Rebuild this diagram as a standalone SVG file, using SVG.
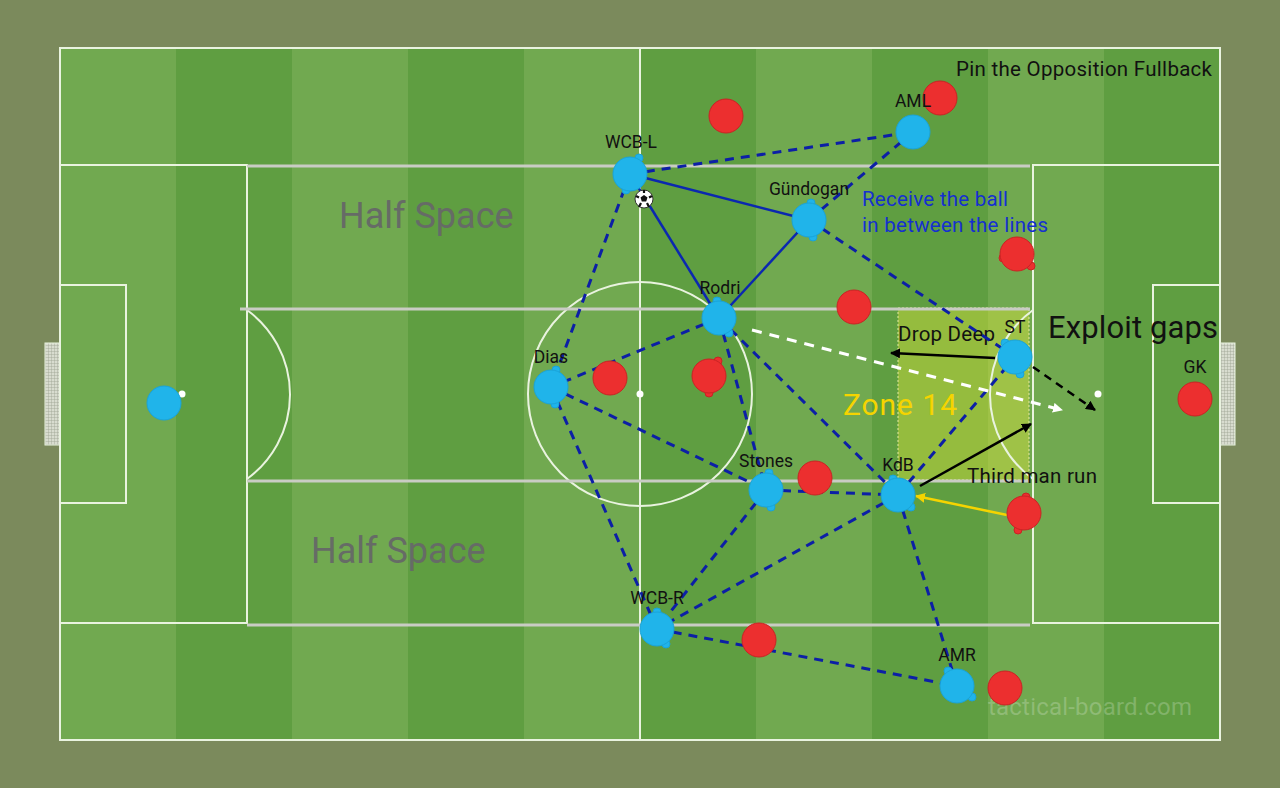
<svg xmlns="http://www.w3.org/2000/svg" width="1280" height="788" viewBox="0 0 1280 788">
<defs>
<style>
.line{stroke:#e9f3df;stroke-width:2;fill:none}
.gray{stroke:#c9ccc4;stroke-width:3;fill:none}
.lbl{font-family:Roboto,"Liberation Sans",sans-serif;font-size:17.5px;fill:#111;text-anchor:middle}
.txt{font-family:Roboto,"Liberation Sans",sans-serif;fill:#111}
.blue{fill:#20b4ea;stroke:#1aa3d8;stroke-width:1}
.red{fill:#ec2f2f;stroke:#c82424;stroke-width:1}
.dash{stroke:#0c1fa6;stroke-width:3;stroke-dasharray:9 7;fill:none}
.solid{stroke:#0b28b0;stroke-width:2.5;fill:none}
</style>
<marker id="ab" markerWidth="10" markerHeight="10" refX="9" refY="5" orient="auto" markerUnits="userSpaceOnUse" viewBox="0 0 10 10"><path d="M0,0 L10,5 L0,10 z" fill="#000"/></marker>
<marker id="aw" markerWidth="10" markerHeight="10" refX="9" refY="5" orient="auto" markerUnits="userSpaceOnUse" viewBox="0 0 10 10"><path d="M0,0 L10,5 L0,10 z" fill="#fff"/></marker>
<marker id="ay" markerWidth="10" markerHeight="10" refX="9" refY="5" orient="auto" markerUnits="userSpaceOnUse" viewBox="0 0 10 10"><path d="M0,0 L10,5 L0,10 z" fill="#f5d400"/></marker>
<pattern id="net" width="3" height="3" patternUnits="userSpaceOnUse"><rect width="3" height="3" fill="#d8dccf"/><path d="M0,0 H3 M0,0 V3" stroke="#9aa290" stroke-width="0.8"/></pattern>
</defs>
<rect x="0" y="0" width="1280" height="788" fill="#7b8a5c"/>
<g id="pitch">
<rect x="60" y="48" width="1160" height="692" fill="#71a950"/>
<rect x="176" y="48" width="116" height="692" fill="#5f9e41"/>
<rect x="408" y="48" width="116" height="692" fill="#5f9e41"/>
<rect x="640" y="48" width="116" height="692" fill="#5f9e41"/>
<rect x="872" y="48" width="116" height="692" fill="#5f9e41"/>
<rect x="1104" y="48" width="116" height="692" fill="#5f9e41"/>
<rect x="45" y="343" width="15" height="102" fill="url(#net)" stroke="#e9f3df" stroke-width="1"/>
<rect x="1220" y="343" width="15" height="102" fill="url(#net)" stroke="#e9f3df" stroke-width="1"/>
<rect x="898" y="308" width="131" height="172" fill="#d7e03c" fill-opacity="0.45" stroke="#e6e8a0" stroke-width="1" stroke-dasharray="2 2"/>
<rect x="60" y="48" width="1160" height="692" class="line"/>
<line x1="640" y1="48" x2="640" y2="740" class="line"/>
<circle cx="640" cy="394" r="112" class="line"/>
<circle cx="640" cy="394" r="3.5" fill="#fff"/>
<rect x="60" y="165" width="187" height="458" class="line"/>
<rect x="60" y="285" width="66" height="218" class="line"/>
<path d="M247,310 A104.5,104.5 0 0 1 247,479" class="line"/>
<circle cx="182" cy="394" r="3.5" fill="#fff"/>
<rect x="1033" y="165" width="187" height="458" class="line"/>
<rect x="1153" y="285" width="67" height="218" class="line"/>
<path d="M1033,310 A104.5,104.5 0 0 0 1033,479" class="line"/>
<circle cx="1098" cy="394" r="3.5" fill="#fff"/>
<line x1="247" y1="166" x2="1030" y2="166" class="gray"/>
<line x1="240" y1="309" x2="1030" y2="309" class="gray"/>
<line x1="247" y1="481" x2="1030" y2="481" class="gray"/>
<line x1="247" y1="625" x2="1030" y2="625" class="gray"/>
</g>
<g id="labels-zones">
<text x="339" y="228" class="txt" font-size="36" style="fill:#666b66">Half Space</text>
<text x="311" y="563" class="txt" font-size="36" style="fill:#666b66">Half Space</text>
<text x="843" y="415" class="txt" font-size="30" textLength="114" style="fill:#f5d400">Zone 14</text>
<text x="956" y="76" class="txt" font-size="20.5" textLength="256">Pin the Opposition Fullback</text>
<text x="1048" y="338" class="txt" font-size="31" textLength="170">Exploit gaps</text>
<text x="898" y="341" class="txt" font-size="20.5" textLength="97">Drop Deep</text>
<text x="967" y="483" class="txt" font-size="20.5" textLength="130">Third man run</text>
<text x="862" y="206" class="txt" font-size="20.5" textLength="146" style="fill:#1530d0">Receive the ball</text>
<text x="862" y="232" class="txt" font-size="20.5" textLength="186" style="fill:#1530d0">in between the lines</text>
<text x="988" y="715" class="txt" font-size="24" textLength="204" style="fill:#ffffff;fill-opacity:0.22">tactical-board.com</text>
</g>
<g id="connectors">
<line x1="630" y1="174" x2="809" y2="220" class="solid"/>
<line x1="630" y1="174" x2="719" y2="318" class="solid"/>
<line x1="719" y1="318" x2="809" y2="220" class="solid"/>
<line x1="630" y1="174" x2="913" y2="132" class="dash"/>
<line x1="809" y1="220" x2="913" y2="132" class="dash"/>
<line x1="630" y1="174" x2="551" y2="387" class="dash"/>
<line x1="809" y1="220" x2="1015" y2="357" class="dash"/>
<line x1="719" y1="318" x2="551" y2="387" class="dash"/>
<line x1="719" y1="318" x2="766" y2="490" class="dash"/>
<line x1="719" y1="318" x2="898" y2="495" class="dash"/>
<line x1="551" y1="387" x2="766" y2="490" class="dash"/>
<line x1="551" y1="387" x2="657" y2="629" class="dash"/>
<line x1="766" y1="490" x2="898" y2="495" class="dash"/>
<line x1="766" y1="490" x2="657" y2="629" class="dash"/>
<line x1="898" y1="495" x2="657" y2="629" class="dash"/>
<line x1="898" y1="495" x2="1015" y2="357" class="dash"/>
<line x1="898" y1="495" x2="957" y2="686" class="dash"/>
<line x1="657" y1="629" x2="957" y2="686" class="dash"/>
<line x1="752" y1="330" x2="1062" y2="410" stroke="#fff" stroke-width="3" stroke-dasharray="10 8" marker-end="url(#aw)"/>
<line x1="1033" y1="367" x2="1095" y2="410" stroke="#000" stroke-width="2.5" stroke-dasharray="8 6" marker-end="url(#ab)"/>
<line x1="995" y1="358" x2="891" y2="353" stroke="#000" stroke-width="2.5" marker-end="url(#ab)"/>
<line x1="920" y1="486" x2="1031" y2="424" stroke="#000" stroke-width="2.5" marker-end="url(#ab)"/>
<line x1="1007" y1="515" x2="916" y2="496" stroke="#f5d400" stroke-width="2.5" marker-end="url(#ay)"/>
</g>
<g id="ball">
<circle cx="644" cy="199" r="9" fill="#fff" stroke="#333" stroke-width="1"/>
<polygon points="644,195 647.5,197.5 646.2,201.5 641.8,201.5 640.5,197.5" fill="#111"/>
<path d="M644,190 L644,193 M652,196 L649,197.5 M649,207 L647,203 M639,207 L641,203 M636,196 L639,197.5" stroke="#111" stroke-width="2.2"/>
</g>
<g id="red-players">
<circle cx="726" cy="116" r="17" class="red"/>
<circle cx="940" cy="98" r="17" class="red"/>
<g id="red-3"><circle cx="1003" cy="258" r="4" class="red"/><circle cx="1031" cy="266" r="4" class="red"/><circle cx="1017" cy="254" r="17" class="red"/></g>
<circle cx="854" cy="307" r="17" class="red"/>
<circle cx="610" cy="378" r="17" class="red"/>
<g id="red-6"><circle cx="718" cy="361" r="4" class="red"/><circle cx="709" cy="393" r="4" class="red"/><circle cx="709" cy="376" r="17" class="red"/></g>
<circle cx="815" cy="478" r="17" class="red"/>
<g id="red-8"><circle cx="1026" cy="497" r="4" class="red"/><circle cx="1018" cy="530" r="4" class="red"/><circle cx="1024" cy="513" r="17" class="red"/></g>
<circle cx="759" cy="640" r="17" class="red"/>
<circle cx="1005" cy="688" r="17" class="red"/>
<g id="gk-red"><circle cx="1195" cy="399" r="17" class="red"/><text x="1195" y="373" class="lbl">GK</text></g>
</g>
<g id="gk-blue"><circle cx="164" cy="403" r="17" class="blue"/></g>
<g id="wcb-l"><circle cx="639" cy="158" r="4" class="blue"/><circle cx="626" cy="190" r="4" class="blue"/><circle cx="630" cy="174" r="17" class="blue"/><text x="631" y="148" class="lbl">WCB-L</text></g>
<g id="gundogan"><circle cx="811" cy="203" r="4" class="blue"/><circle cx="813" cy="237" r="4" class="blue"/><circle cx="809" cy="220" r="17" class="blue"/><text x="809" y="195" class="lbl">Gündogan</text></g>
<g id="aml"><circle cx="913" cy="132" r="17" class="blue"/><text x="913" y="107" class="lbl">AML</text></g>
<g id="rodri"><circle cx="717" cy="301" r="4" class="blue"/><circle cx="729" cy="333" r="4" class="blue"/><circle cx="719" cy="318" r="17" class="blue"/><text x="720" y="294" class="lbl">Rodri</text></g>
<g id="dias"><circle cx="556" cy="370" r="4" class="blue"/><circle cx="555" cy="404" r="4" class="blue"/><circle cx="551" cy="387" r="17" class="blue"/><text x="551" y="363" class="lbl">Dias</text></g>
<g id="stones"><circle cx="769" cy="473" r="4" class="blue"/><circle cx="771" cy="507" r="4" class="blue"/><circle cx="766" cy="490" r="17" class="blue"/><text x="766" y="467" class="lbl">Stones</text></g>
<g id="kdb"><circle cx="893" cy="479" r="4" class="blue"/><circle cx="911" cy="507" r="4" class="blue"/><circle cx="898" cy="495" r="17" class="blue"/><text x="898" y="471" class="lbl">KdB</text></g>
<g id="st"><circle cx="1005" cy="343" r="4" class="blue"/><circle cx="1020" cy="374" r="4" class="blue"/><circle cx="1015" cy="357" r="17" class="blue"/><text x="1015" y="333" class="lbl">ST</text></g>
<g id="wcb-r"><circle cx="657" cy="612" r="4" class="blue"/><circle cx="666" cy="644" r="4" class="blue"/><circle cx="657" cy="629" r="17" class="blue"/><text x="657" y="604" class="lbl">WCB-R</text></g>
<g id="amr"><circle cx="948" cy="671" r="4" class="blue"/><circle cx="972" cy="697" r="4" class="blue"/><circle cx="957" cy="686" r="17" class="blue"/><text x="957" y="661" class="lbl">AMR</text></g>
</svg>
